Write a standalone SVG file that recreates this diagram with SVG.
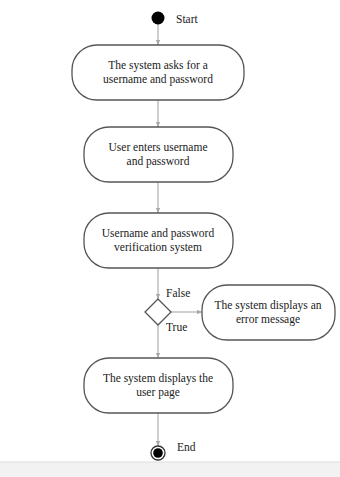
<svg xmlns="http://www.w3.org/2000/svg" width="340" height="477" viewBox="0 0 340 477">
  <style>
    .act { fill: #ffffff; stroke: #555555; stroke-width: 1.3; }
    .lbl { font-family: "Liberation Serif", "DejaVu Serif", "Times New Roman", serif; font-size: 11.5px; fill: #1a1a1a; text-anchor: middle; }
    .tag { font-family: "Liberation Serif", "DejaVu Serif", "Times New Roman", serif; font-size: 11.5px; fill: #1a1a1a; }
    .edge { fill: none; stroke: #a8a8a8; stroke-width: 1.1; marker-end: url(#arrow); }
  </style>
  <defs>
    <marker id="arrow" viewBox="0 0 8 8" refX="7" refY="4" markerWidth="6" markerHeight="6" orient="auto" markerUnits="userSpaceOnUse">
      <path d="M0,1 L7,4 L0,7 z" fill="#a8a8a8"/>
    </marker>
  </defs>
  <rect width="340" height="477" fill="#ffffff"/>
  <!-- page footer strip -->
  <rect x="0" y="462" width="340" height="15" fill="#f2f2f2"/>
  <line x1="0" y1="462" x2="340" y2="462" stroke="#dddddd" stroke-width="1"/>

  <g id="connectors">
    <line class="edge" x1="158" y1="24" x2="158" y2="45"/>
    <line class="edge" x1="158" y1="100" x2="158" y2="127"/>
    <line class="edge" x1="158" y1="182" x2="158" y2="213"/>
    <line class="edge" x1="158" y1="268" x2="158" y2="299"/>
    <line class="edge" x1="171" y1="312" x2="202" y2="312"/>
    <line class="edge" x1="158" y1="325" x2="158" y2="358"/>
    <line class="edge" x1="158" y1="413" x2="158" y2="446"/>
  </g>

  <g id="start">
    <circle cx="158" cy="18" r="6.5" fill="#000000"/>
    <text class="tag" x="176" y="23">Start</text>
  </g>

  <g id="ask-credentials">
    <rect class="act" x="72" y="45" width="172" height="55" rx="25" ry="25"/>
    <text class="lbl" x="158" y="69">The system asks for a</text>
    <text class="lbl" x="158" y="83">username and password</text>
  </g>

  <g id="enter-credentials">
    <rect class="act" x="84" y="127" width="149" height="55" rx="25" ry="25"/>
    <text class="lbl" x="158" y="151">User enters username</text>
    <text class="lbl" x="158" y="165">and password</text>
  </g>

  <g id="verify">
    <rect class="act" x="84" y="213" width="149" height="55" rx="25" ry="25"/>
    <text class="lbl" x="158" y="237">Username and password</text>
    <text class="lbl" x="158" y="251">verification system</text>
  </g>

  <g id="decision">
    <polygon class="act" points="158,299 171,312 158,325 145,312"/>
    <text class="tag" x="166" y="297">False</text>
    <text class="tag" x="166" y="331">True</text>
  </g>

  <g id="error-message">
    <rect class="act" x="202" y="285" width="133" height="55" rx="25" ry="25"/>
    <text class="lbl" x="268" y="309">The system displays an</text>
    <text class="lbl" x="268" y="323">error message</text>
  </g>

  <g id="user-page">
    <rect class="act" x="84" y="358" width="149" height="55" rx="25" ry="25"/>
    <text class="lbl" x="158" y="382">The system displays the</text>
    <text class="lbl" x="158" y="396">user page</text>
  </g>

  <g id="end">
    <circle cx="158" cy="453" r="7" fill="#ffffff" stroke="#333333" stroke-width="1.3"/>
    <circle cx="158" cy="453" r="4.8" fill="#000000"/>
    <text class="tag" x="177" y="451">End</text>
  </g>
</svg>
